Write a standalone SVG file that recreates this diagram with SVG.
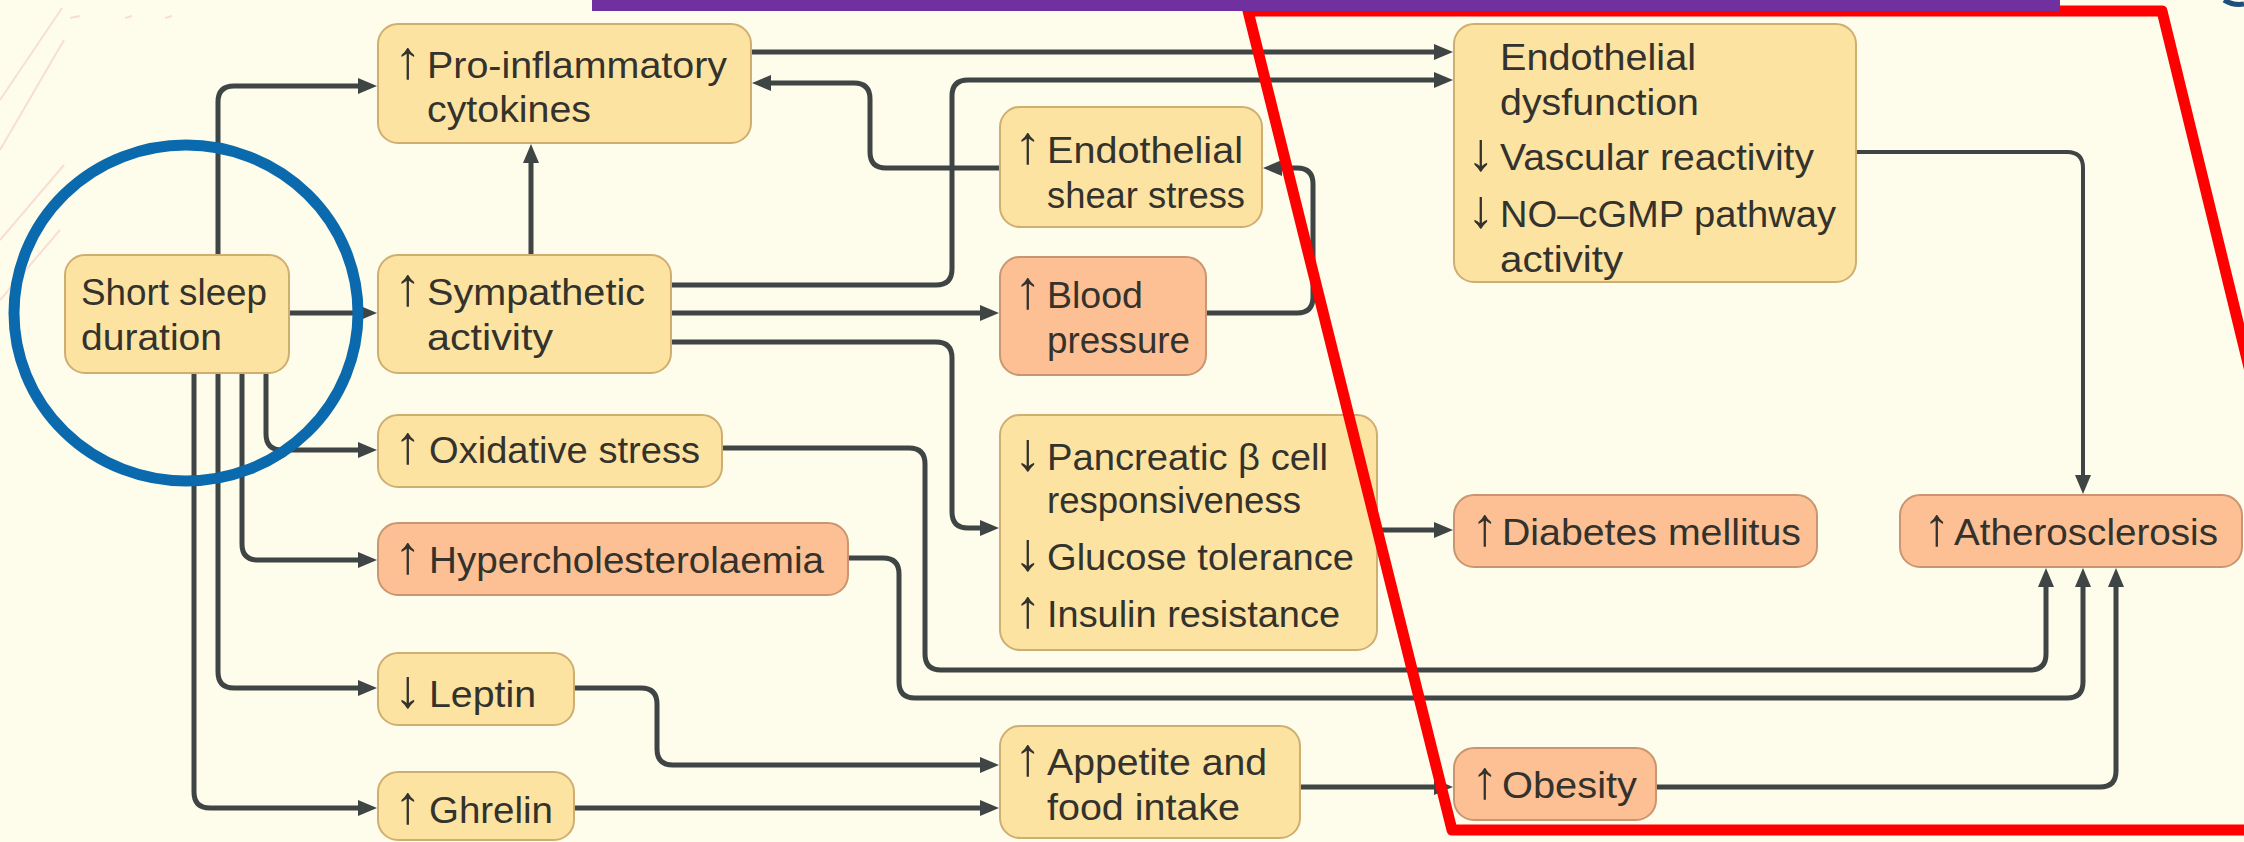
<svg xmlns="http://www.w3.org/2000/svg" width="2244" height="842" viewBox="0 0 2244 842">
  <defs>
    <marker id="ah" markerUnits="userSpaceOnUse" markerWidth="20" markerHeight="18" refX="12" refY="8" orient="auto">
      <path d="M0,0 L19,8 L0,16 z" fill="#3e4544"/>
    </marker>
    <style>
      .bg { fill: #fefcea; }
      .ny { fill: #fde3a1; stroke: #cfae72; stroke-width: 2; }
      .ns { fill: #fdc094; stroke: #c99671; stroke-width: 2; }
      .t { font-family: "Liberation Sans", Arial, sans-serif; font-size: 37px; fill: #33322c; }
      .ar { font-family: "Liberation Sans", Arial, sans-serif; font-size: 54px; fill: #33322c; text-anchor: middle; }
      .c { fill: none; stroke: #3e4544; stroke-width: 5; marker-end: url(#ah); }
      .c2 { fill: none; stroke: #3e4544; stroke-width: 4; marker-end: url(#ah); }
      .deco { fill: none; stroke: #f8ded5; stroke-width: 2; }
    </style>
  </defs>

  <rect class="bg" x="0" y="0" width="2244" height="842"/>

  <g id="decoration">
    <line class="deco" x1="0" y1="100" x2="62" y2="8"/>
    <line class="deco" x1="0" y1="150" x2="64" y2="40"/>
    <line class="deco" x1="0" y1="240" x2="64" y2="165"/>
    <line class="deco" x1="0" y1="300" x2="60" y2="230"/>
    <line class="deco" x1="70" y1="18" x2="80" y2="16"/>
    <line class="deco" x1="125" y1="18" x2="132" y2="16"/>
    <line class="deco" x1="165" y1="18" x2="172" y2="16"/>
  </g>

  <g id="connectors">
    <path class="c" d="M218,255 V102 Q218,86 234,86 H370"/>
    <path class="c" d="M289,313 H370"/>
    <path class="c" d="M531,255 V151"/>
    <path class="c" d="M266,373 V434 Q266,450 282,450 H370"/>
    <path class="c" d="M242,373 V544 Q242,560 258,560 H370"/>
    <path class="c" d="M218,373 V672 Q218,688 234,688 H370"/>
    <path class="c" d="M194,373 V792 Q194,808 210,808 H370"/>
    <path class="c" d="M751,52 H1446"/>
    <path class="c" d="M671,285 H936 Q952,285 952,269 V96 Q952,80 968,80 H1446"/>
    <path class="c" d="M1000,168 H886 Q870,168 870,152 V99 Q870,83 854,83 H759"/>
    <path class="c" d="M671,313 H992"/>
    <path class="c" d="M1206,313 H1297 Q1313,313 1313,297 V184 Q1313,168 1297,168 H1270"/>
    <path class="c" d="M671,342 H936 Q952,342 952,358 V512 Q952,528 968,528 H992"/>
    <path class="c" d="M1377,530 H1446"/>
    <path class="c" d="M722,448 H909 Q925,448 925,464 V654 Q925,670 941,670 H2030 Q2046,670 2046,654 V575"/>
    <path class="c" d="M848,558 H883 Q899,558 899,574 V682 Q899,698 915,698 H2067 Q2083,698 2083,682 V575"/>
    <path class="c2" d="M1856,152 H2067 Q2083,152 2083,168 V487"/>
    <path class="c" d="M1656,787 H2100 Q2116,787 2116,771 V575"/>
    <path class="c" d="M574,688 H641 Q657,688 657,704 V749 Q657,765 673,765 H992"/>
    <path class="c" d="M574,808 H992"/>
    <path class="c" d="M1300,787 H1446"/>
  </g>

  <g id="short-sleep">
    <rect class="ny" x="65" y="255" width="224" height="118" rx="20"/>
    <text class="t" x="81" y="305" textLength="186" lengthAdjust="spacingAndGlyphs">Short sleep</text>
    <text class="t" x="81" y="350" textLength="141" lengthAdjust="spacingAndGlyphs">duration</text>
  </g>

  <g id="pro-inflammatory">
    <rect class="ny" x="378" y="24" width="373" height="119" rx="20"/>
    <text class="ar" x="408" y="78">↑</text>
    <text class="t" x="427" y="78" textLength="300" lengthAdjust="spacingAndGlyphs">Pro-inflammatory</text>
    <text class="t" x="427" y="122" textLength="164" lengthAdjust="spacingAndGlyphs">cytokines</text>
  </g>

  <g id="sympathetic">
    <rect class="ny" x="378" y="255" width="293" height="118" rx="20"/>
    <text class="ar" x="408" y="305">↑</text>
    <text class="t" x="427" y="305" textLength="218" lengthAdjust="spacingAndGlyphs">Sympathetic</text>
    <text class="t" x="427" y="350" textLength="126" lengthAdjust="spacingAndGlyphs">activity</text>
  </g>

  <g id="oxidative">
    <rect class="ny" x="378" y="415" width="344" height="72" rx="20"/>
    <text class="ar" x="408" y="463">↑</text>
    <text class="t" x="429" y="463" textLength="271" lengthAdjust="spacingAndGlyphs">Oxidative stress</text>
  </g>

  <g id="hypercholesterolaemia">
    <rect class="ns" x="378" y="523" width="470" height="72" rx="20"/>
    <text class="ar" x="408" y="573">↑</text>
    <text class="t" x="429" y="573" textLength="395" lengthAdjust="spacingAndGlyphs">Hypercholesterolaemia</text>
  </g>

  <g id="leptin">
    <rect class="ny" x="378" y="653" width="196" height="72" rx="20"/>
    <text class="ar" x="408" y="707">↓</text>
    <text class="t" x="429" y="707" textLength="107" lengthAdjust="spacingAndGlyphs">Leptin</text>
  </g>

  <g id="ghrelin">
    <rect class="ny" x="378" y="772" width="196" height="68" rx="20"/>
    <text class="ar" x="408" y="823">↑</text>
    <text class="t" x="429" y="823" textLength="124" lengthAdjust="spacingAndGlyphs">Ghrelin</text>
  </g>

  <g id="shear-stress">
    <rect class="ny" x="1000" y="107" width="262" height="120" rx="20"/>
    <text class="ar" x="1028" y="163">↑</text>
    <text class="t" x="1047" y="163" textLength="196" lengthAdjust="spacingAndGlyphs">Endothelial</text>
    <text class="t" x="1047" y="208" textLength="198" lengthAdjust="spacingAndGlyphs">shear stress</text>
  </g>

  <g id="blood-pressure">
    <rect class="ns" x="1000" y="257" width="206" height="118" rx="20"/>
    <text class="ar" x="1028" y="308">↑</text>
    <text class="t" x="1047" y="308" textLength="96" lengthAdjust="spacingAndGlyphs">Blood</text>
    <text class="t" x="1047" y="353" textLength="143" lengthAdjust="spacingAndGlyphs">pressure</text>
  </g>

  <g id="pancreatic">
    <rect class="ny" x="1000" y="415" width="377" height="235" rx="20"/>
    <text class="ar" x="1028" y="470">↓</text>
    <text class="t" x="1047" y="470" textLength="281" lengthAdjust="spacingAndGlyphs">Pancreatic β cell</text>
    <text class="t" x="1047" y="513" textLength="254" lengthAdjust="spacingAndGlyphs">responsiveness</text>
    <text class="ar" x="1028" y="570">↓</text>
    <text class="t" x="1047" y="570" textLength="307" lengthAdjust="spacingAndGlyphs">Glucose tolerance</text>
    <text class="ar" x="1028" y="627">↑</text>
    <text class="t" x="1047" y="627" textLength="293" lengthAdjust="spacingAndGlyphs">Insulin resistance</text>
  </g>

  <g id="appetite">
    <rect class="ny" x="1000" y="726" width="300" height="112" rx="20"/>
    <text class="ar" x="1028" y="775">↑</text>
    <text class="t" x="1047" y="775" textLength="220" lengthAdjust="spacingAndGlyphs">Appetite and</text>
    <text class="t" x="1047" y="820" textLength="193" lengthAdjust="spacingAndGlyphs">food intake</text>
  </g>

  <g id="endothelial-dysfunction">
    <rect class="ny" x="1454" y="24" width="402" height="258" rx="20"/>
    <text class="t" x="1500" y="70" textLength="196" lengthAdjust="spacingAndGlyphs">Endothelial</text>
    <text class="t" x="1500" y="115" textLength="199" lengthAdjust="spacingAndGlyphs">dysfunction</text>
    <text class="ar" x="1481" y="170">↓</text>
    <text class="t" x="1500" y="170" textLength="314" lengthAdjust="spacingAndGlyphs">Vascular reactivity</text>
    <text class="ar" x="1481" y="227">↓</text>
    <text class="t" x="1500" y="227" textLength="336" lengthAdjust="spacingAndGlyphs">NO–cGMP pathway</text>
    <text class="t" x="1500" y="272" textLength="123" lengthAdjust="spacingAndGlyphs">activity</text>
  </g>

  <g id="diabetes">
    <rect class="ns" x="1454" y="495" width="363" height="72" rx="20"/>
    <text class="ar" x="1485" y="545">↑</text>
    <text class="t" x="1502" y="545" textLength="299" lengthAdjust="spacingAndGlyphs">Diabetes mellitus</text>
  </g>

  <g id="atherosclerosis">
    <rect class="ns" x="1900" y="495" width="342" height="72" rx="20"/>
    <text class="ar" x="1937" y="545">↑</text>
    <text class="t" x="1954" y="545" textLength="264" lengthAdjust="spacingAndGlyphs">Atherosclerosis</text>
  </g>

  <g id="obesity">
    <rect class="ns" x="1454" y="748" width="202" height="72" rx="20"/>
    <text class="ar" x="1485" y="798">↑</text>
    <text class="t" x="1502" y="798" textLength="135" lengthAdjust="spacingAndGlyphs">Obesity</text>
  </g>

  <g id="annotations">
    <polygon points="1248,11 2162,11 2362,830 1452,830" fill="none" stroke="#ff0000" stroke-width="11" stroke-linejoin="round"/>
    <rect x="592" y="0" width="1468" height="11" fill="#7030a0"/>
    <ellipse cx="186" cy="313" rx="172" ry="168" fill="none" stroke="#0a6aad" stroke-width="11"/>
    <path d="M2224,0 Q2234,6 2244,4" fill="none" stroke="#1d4f7c" stroke-width="5"/>
  </g>
</svg>
